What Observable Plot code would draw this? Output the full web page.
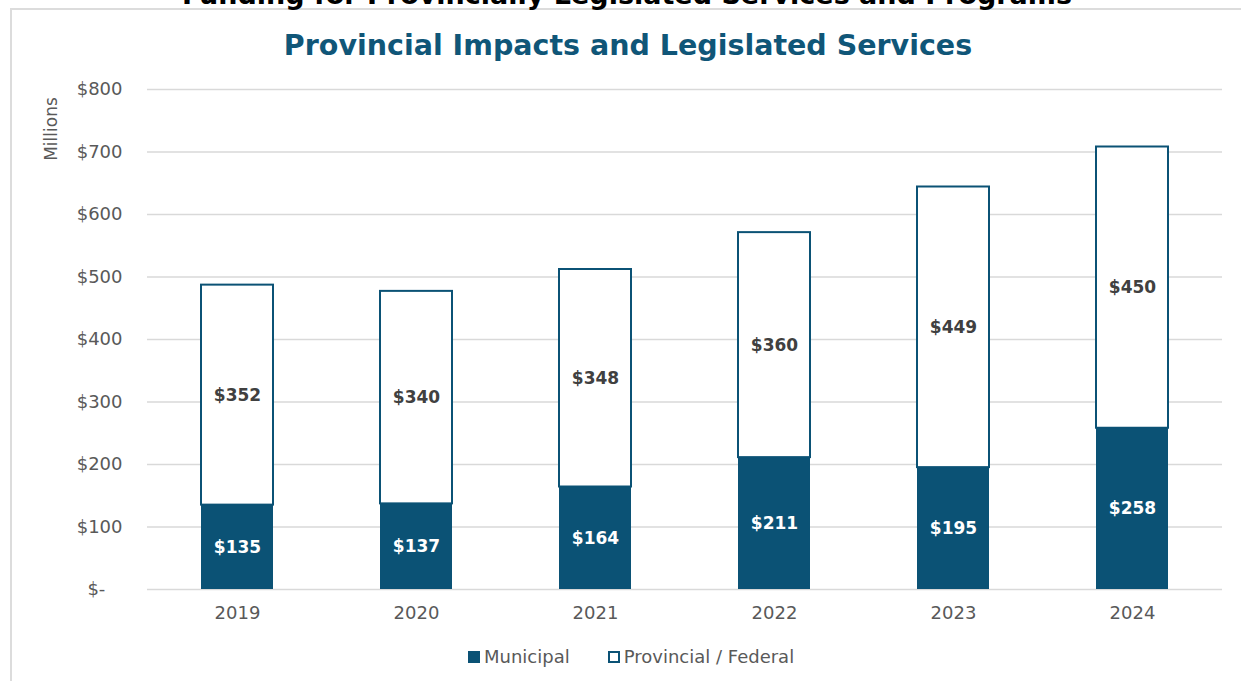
<!DOCTYPE html>
<html>
<head>
<meta charset="utf-8">
<script src="https://cdn.jsdelivr.net/npm/d3@7"></script>
<script src="https://cdn.jsdelivr.net/npm/@observablehq/plot@0.6"></script>
<style>
  html, body { margin: 0; padding: 0; background: #fff; overflow: hidden; }
  #wrap { position: relative; width: 1241px; height: 681px; overflow: hidden; font-family: "DejaVu Sans", sans-serif; }
  #frame { position: absolute; left: 10px; top: 8px; width: 1300px; height: 700px; border-left: 2px solid #dcdcdc; border-top: 2px solid #dcdcdc; }
  #supertitle { position: absolute; left: 0; width: 1254px; top: -19px; text-align: center; font: bold 27px/27px "DejaVu Sans", sans-serif; color: #000; white-space: nowrap; }
  #title { position: absolute; left: 0; width: 1256px; top: 32px; text-align: center; font: bold 28.5px/28px "DejaVu Sans", sans-serif; color: #105678; white-space: nowrap; }
  #ylabel { position: absolute; left: 51px; top: 129px; transform: translate(-50%, -50%) rotate(-90deg); font: 17px/17px "DejaVu Sans", sans-serif; color: #595959; white-space: nowrap; }
  #chart { position: absolute; left: 0; top: 0; }
  #legend { position: absolute; left: 468px; top: 647px; font: 18px/20px "DejaVu Sans", sans-serif; color: #595959; display: flex; align-items: center; white-space: nowrap; }
  .sw { display: inline-block; width: 12px; height: 12px; box-sizing: border-box; margin-right: 4px; }
</style>
</head>
<body>
<div id="wrap">
  <div id="frame"></div>
  <div id="supertitle">Funding for Provincially Legislated Services and Programs</div>
  <div id="title">Provincial Impacts and Legislated Services</div>
  <div id="ylabel">Millions</div>
  <div id="chart"></div>
  <div id="legend">
    <span class="sw" style="background:#0B5275"></span><span>Municipal</span>
    <span style="display:inline-block;width:38px"></span>
    <span class="sw" style="background:#fff;border:2px solid #0B5275"></span><span>Provincial / Federal</span>
  </div>
</div>
<script>
const years = ["2019", "2020", "2021", "2022", "2023", "2024"];
const municipal = [135, 137, 164, 211, 195, 258];
const provincial = [352, 340, 348, 360, 449, 450];
const yTicks = [0, 100, 200, 300, 400, 500, 600, 700, 800];

const navy = "#0B5275";
const rows = years.map((year, i) => ({
  year,
  muni: municipal[i],
  prov: provincial[i],
  total: municipal[i] + provincial[i]
}));

const chart = Plot.plot({
  width: 1241,
  height: 640,
  marginLeft: 147,
  marginRight: 19,
  marginTop: 89,
  marginBottom: 51,
  style: { fontFamily: "DejaVu Sans, sans-serif", fontSize: "18px", background: "transparent", overflow: "visible" },
  x: { type: "band", domain: years, paddingInner: 0.6, paddingOuter: 0.3 },
  y: { domain: [0, 800] },
  marks: [
    Plot.ruleY(yTicks, { stroke: "#d9d9d9", strokeWidth: 1.5 }),
    Plot.barY(rows, { x: "year", y1: 0, y2: "muni", fill: navy }),
    Plot.barY(rows, { x: "year", y1: "muni", y2: "total", fill: "#fff", stroke: navy, strokeWidth: 2 }),
    Plot.text(rows, { x: "year", y: d => d.muni / 2, text: d => "$" + d.muni, fill: "#fff", fontWeight: "bold", fontSize: 17 }),
    Plot.text(rows, { x: "year", y: d => d.muni + d.prov / 2, text: d => "$" + d.prov, fill: "#404040", fontWeight: "bold", fontSize: 17 }),
    Plot.axisY(yTicks, { tickSize: 0, tickPadding: 25, label: null, color: "#595959", fontSize: 18,
      tickFormat: d => d === 0 ? "$-\u00a0\u00a0\u00a0" : "$" + d }),
    Plot.axisX({ tickSize: 0, tickPadding: 17, label: null, color: "#595959", fontSize: 18 })
  ]
});
document.getElementById("chart").appendChild(chart);
</script>
</body>
</html>
